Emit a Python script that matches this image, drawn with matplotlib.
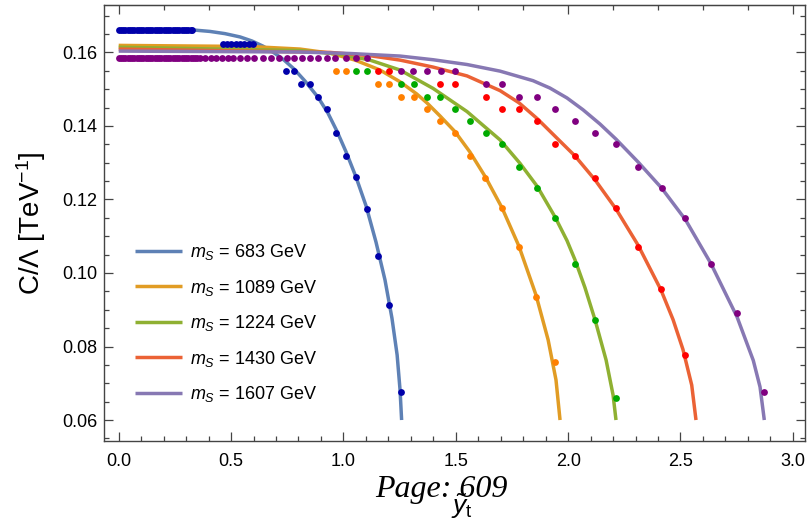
import matplotlib
matplotlib.use("Agg")
import matplotlib.pyplot as plt
from matplotlib.ticker import MultipleLocator, NullFormatter

plt.rcParams['font.family'] = ['Liberation Sans', 'DejaVu Sans']
plt.rcParams['mathtext.fontset'] = 'custom'
plt.rcParams['mathtext.rm'] = 'Liberation Sans'
plt.rcParams['mathtext.it'] = 'Liberation Sans:italic'

# curves (x = y_t tilde, y = C/Lambda in TeV^-1)
blue_x = [0.000, 0.331, 0.406, 0.473, 0.540, 0.593, 0.642, 0.691, 0.736, 0.780, 0.829, 0.887,
          0.931, 0.971, 1.012, 1.056, 1.101, 1.145, 1.185, 1.216, 1.239, 1.252, 1.259]
blue_y = [0.1661, 0.1661, 0.1657, 0.1651, 0.1642, 0.1631, 0.1617, 0.1599, 0.1579, 0.1555, 0.1522, 0.1478,
          0.1435, 0.1386, 0.1329, 0.1261, 0.1182, 0.1084, 0.0981, 0.0877, 0.0777, 0.0682, 0.0600]

orange_x = [0.000, 0.584, 0.807, 0.940, 1.052, 1.163, 1.252, 1.326, 1.371, 1.430, 1.497,
            1.563, 1.632, 1.706, 1.781, 1.857, 1.911, 1.946, 1.964]
orange_y = [0.1619, 0.1616, 0.1609, 0.1598, 0.1579, 0.1552, 0.1520, 0.1487, 0.1463, 0.1427, 0.1384,
            0.1329, 0.1261, 0.1177, 0.1073, 0.0940, 0.0818, 0.0709, 0.0600]

green_x = [0.000, 0.807, 0.985, 1.118, 1.252, 1.399, 1.550, 1.697, 1.786, 1.862, 1.942,
           1.995, 2.031, 2.075, 2.120, 2.169, 2.200, 2.213]
green_y = [0.1614, 0.1605, 0.1595, 0.1579, 0.1552, 0.1502, 0.1439, 0.1362, 0.1298, 0.1236, 0.1152,
           0.1088, 0.1035, 0.0960, 0.0872, 0.0763, 0.0668, 0.0600]

red_x = [0.000, 0.940, 1.118, 1.252, 1.399, 1.550, 1.697, 1.781, 1.862, 2.031, 2.120, 2.213,
         2.311, 2.413, 2.467, 2.511, 2.550, 2.569]
red_y = [0.1609, 0.1600, 0.1591, 0.1579, 0.1560, 0.1536, 0.1496, 0.1463, 0.1420, 0.1318, 0.1253, 0.1174,
         0.1076, 0.0954, 0.0873, 0.0792, 0.0695, 0.0600]

purple_x = [0.000, 0.807, 1.029, 1.252, 1.399, 1.550, 1.697, 1.844, 1.919, 1.995, 2.066,
            2.142, 2.213, 2.311, 2.416, 2.522, 2.635, 2.752, 2.824, 2.854, 2.873]
purple_y = [0.16035, 0.1601, 0.1597, 0.1590, 0.1580, 0.1567, 0.1549, 0.1523, 0.1503, 0.1476, 0.1444,
            0.1405, 0.1364, 0.1302, 0.1231, 0.1145, 0.1026, 0.0880, 0.0762, 0.0690, 0.0600]

# scanned points
blue_flat = [0.000, 0.010, 0.020, 0.030, 0.040, 0.050, 0.060, 0.070, 0.080, 0.090, 0.100, 0.110,
             0.120, 0.130, 0.140, 0.150, 0.160, 0.170, 0.180, 0.190, 0.200, 0.210, 0.220, 0.230,
             0.240, 0.250, 0.260, 0.270, 0.280, 0.290, 0.300, 0.310, 0.320, 0.325]
blue_step = [0.463, 0.482, 0.501, 0.521, 0.540, 0.559, 0.579, 0.598]
blue_pts_x = [0.745, 0.779, 0.813, 0.850, 0.888, 0.927, 0.968, 1.012, 1.056, 1.104, 1.153, 1.203, 1.258]
blue_pts_y = [0.1550, 0.1550, 0.1515, 0.1515, 0.1479, 0.1446, 0.1381, 0.1319, 0.1260, 0.1175, 0.1047,
              0.0913, 0.0676]

orange_pts_x = [0.967, 1.012, 1.153, 1.203, 1.256, 1.313, 1.371, 1.431, 1.497, 1.563, 1.632, 1.704,
                1.780, 1.859, 1.943]
orange_pts_y = [0.1549, 0.1549, 0.1515, 0.1515, 0.1479, 0.1479, 0.1446, 0.1413, 0.1381, 0.1319, 0.1259,
                0.1176, 0.1071, 0.0934, 0.0759]

green_pts_x = [1.056, 1.104, 1.256, 1.313, 1.371, 1.431, 1.497, 1.562, 1.633, 1.704, 1.780, 1.860,
               1.942, 2.029, 2.118, 2.213]
green_pts_y = [0.1549, 0.1549, 0.1515, 0.1515, 0.1479, 0.1479, 0.1446, 0.1413, 0.1381, 0.1350, 0.1289,
               0.1231, 0.1149, 0.1024, 0.0871, 0.0661]

red_pts_x = [1.153, 1.203, 1.431, 1.497, 1.633, 1.704, 1.780, 1.860, 1.942, 2.029, 2.120, 2.213,
             2.313, 2.415, 2.522]
red_pts_y = [0.1549, 0.1549, 0.1515, 0.1515, 0.1479, 0.1446, 0.1446, 0.1413, 0.1350, 0.1319, 0.1259,
             0.1176, 0.1071, 0.0956, 0.0777]

purple_flat = [0.00, 0.01, 0.02, 0.03, 0.04, 0.05, 0.06, 0.07, 0.08, 0.09, 0.10, 0.11, 0.12, 0.13,
               0.14, 0.15, 0.16, 0.17, 0.18, 0.19, 0.20, 0.21, 0.22, 0.23, 0.24, 0.25, 0.26, 0.27,
               0.28, 0.29, 0.30, 0.31, 0.32, 0.33, 0.34, 0.35, 0.36, 0.385, 0.41, 0.435, 0.46, 0.485,
               0.51, 0.54, 0.570, 0.602, 0.641, 0.676, 0.713, 0.748, 0.781, 0.816, 0.851, 0.887,
               0.926, 0.964, 1.010, 1.056, 1.104]
purple_pts_x = [1.256, 1.311, 1.371, 1.433, 1.497, 1.633, 1.704, 1.780, 1.860, 1.942, 2.029, 2.120,
                2.213, 2.311, 2.416, 2.522, 2.635, 2.752, 2.873]
purple_pts_y = [0.1549, 0.1549, 0.1549, 0.1549, 0.1549, 0.1515, 0.1515, 0.1479, 0.1479, 0.1446, 0.1413,
                0.1381, 0.1350, 0.1289, 0.1231, 0.1149, 0.1024, 0.0892, 0.0676]

masses = ['683', '1089', '1224', '1430', '1607']

line_cols = ['#5E81B5', '#E19C24', '#8FB032', '#EB6235', '#8778B3']
dot_cols = ['#0000AA', '#FF8000', '#00AA00', '#FF0000', '#800080']

fig = plt.figure(figsize=(8.1, 5.22), dpi=100)
ax = fig.add_axes([0.1288, 0.1552, 0.8650, 0.8346])

curves = [(blue_x, blue_y), (orange_x, orange_y), (green_x, green_y), (red_x, red_y), (purple_x, purple_y)]
for (cx, cy), col, m in zip(curves, line_cols, masses):
    ax.plot(cx, cy, color=col, lw=2.5, solid_capstyle='butt', solid_joinstyle='round',
            label='$m_S$ = ' + m + ' GeV')

pts = [
    (blue_flat + blue_step + blue_pts_x,
     [0.1661] * len(blue_flat) + [0.1623] * len(blue_step) + blue_pts_y),
    (orange_pts_x, orange_pts_y),
    (green_pts_x, green_pts_y),
    (red_pts_x, red_pts_y),
    (purple_flat + purple_pts_x, [0.1586] * len(purple_flat) + purple_pts_y),
]
for (px, py), col in zip(pts, dot_cols):
    ax.plot(px, py, 'o', color=col, ms=4.9, mew=0, zorder=3)

ax.set_xlim(-0.064, 3.054)
ax.set_ylim(0.0543, 0.1728)

frame_col = '#444444'
for s in ax.spines.values():
    s.set_color(frame_col)
    s.set_linewidth(1.0)

ax.xaxis.set_major_locator(MultipleLocator(0.5))
ax.xaxis.set_minor_locator(MultipleLocator(0.1))
ax.yaxis.set_major_locator(MultipleLocator(0.02))
ax.yaxis.set_minor_locator(MultipleLocator(0.005))
ax.xaxis.set_major_formatter(lambda v, p: f'{v:.1f}')
ax.yaxis.set_major_formatter(lambda v, p: f'{v:.2f}')
ax.tick_params(which='both', direction='in', right=True, top=False, color=frame_col, width=0.9)
ax.tick_params(which='major', length=6.5, labelsize=13)
ax.tick_params(which='minor', length=3.5)
ax.tick_params(axis='x', pad=9)
ax.tick_params(axis='y', pad=5)

top = ax.secondary_xaxis('top')
top.xaxis.set_major_locator(MultipleLocator(1.0))
top.xaxis.set_minor_locator(MultipleLocator(0.2))
top.xaxis.set_major_formatter(NullFormatter())
top.tick_params(which='both', direction='in', color=frame_col, width=0.9)
top.tick_params(which='major', length=6.5)
top.tick_params(which='minor', length=3.5)
top.spines['top'].set_color(frame_col)

ax.set_ylabel('C/Λ [TeV$^{-1}$]', fontsize=20, labelpad=10)

leg = ax.legend(loc='upper left', bbox_to_anchor=(0.044, 0.4565), frameon=False, fontsize=13,
                handlelength=2.6, handletextpad=0.45, labelspacing=0.86, borderpad=0, borderaxespad=0)

fig.text(462 / 810, 1 - 506 / 522, r'$\tilde{y}_{\mathrm{t}}$', fontsize=19, ha='center', va='center')
fig.text(441 / 810, 1 - 489 / 522, 'Page: 609', fontsize=23, fontfamily='Liberation Serif',
         style='italic', ha='center', va='center')

fig.savefig('out.png', dpi=100)
